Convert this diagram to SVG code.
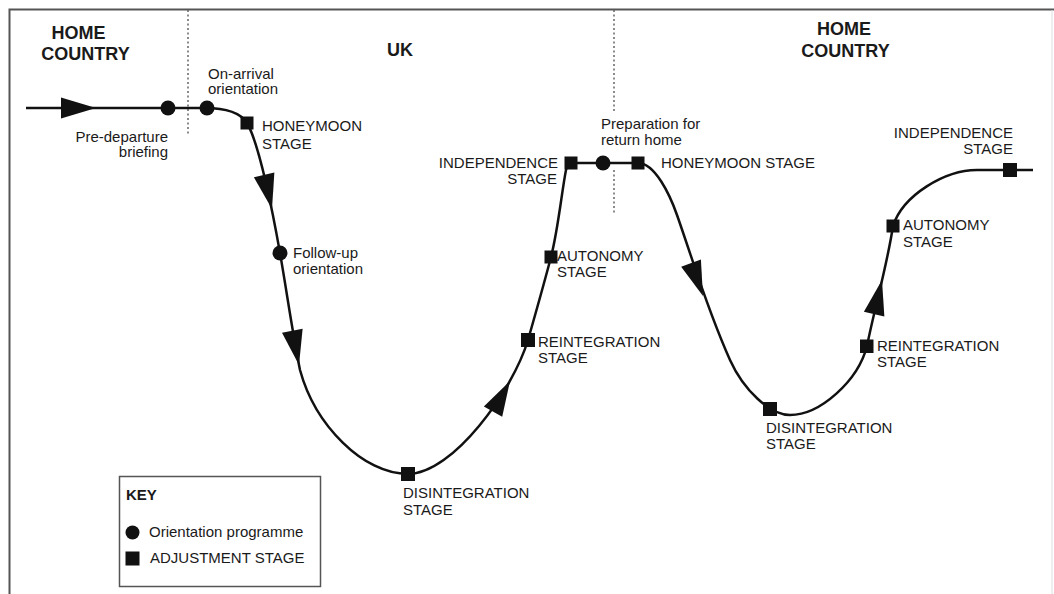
<svg xmlns="http://www.w3.org/2000/svg" width="1054" height="594" viewBox="0 0 1054 594">
<style>
text{font-family:"Liberation Sans",Arial,Helvetica,sans-serif;fill:#1a1a1a}
.h{font-size:18px;font-weight:bold}
.l{font-size:15px}
.r{text-anchor:end}
.c{text-anchor:middle}
.curve{fill:none;stroke:#111;stroke-width:2.5}
.dot{fill:none;stroke:#666;stroke-width:1.5;stroke-dasharray:2 2.5}
.sq{fill:#111}
.ci{fill:#111}
.ah{fill:#111}
</style>
<defs>
<path id="ah" d="M0,0 L-35,-10.5 L-35,10.5 Z"/>
</defs>
<rect x="0" y="0" width="1054" height="594" fill="#fff"/>
<g id="frame">
<path d="M9.5,594 V9.5 H1054" fill="none" stroke="#555" stroke-width="2"/>
<line x1="1052" y1="10" x2="1052" y2="594" stroke="#ddd" stroke-width="1"/>
<line class="dot" x1="188" y1="10" x2="188" y2="136"/>
<line class="dot" x1="614" y1="10" x2="614" y2="113"/>
<line class="dot" x1="614" y1="170" x2="614" y2="215"/>
</g>
<g id="headings">
<text class="h c" x="78.5" y="39">HOME</text>
<text class="h c" x="85.5" y="60">COUNTRY</text>
<text class="h" x="387" y="56">UK</text>
<text class="h c" x="844" y="35">HOME</text>
<text class="h c" x="845.5" y="57">COUNTRY</text>
</g>
<g id="connectors">
<path class="curve" d="M26,108 L205,108 C226,108 240,112 247,123 C259,143 273,213 280,253 C287,293 292,330 300,370 C315,425 363,474 408,474 C453,474 513,390 528,340 C536,312 545,280 551,257 C558,230 562,190 566,170 C567,166 569,163 575,163 L638,163 C655,163 670,195 677,215 C694.5,265 707.5,310 730,360 C743.5,390 770,415 790,415 C820,415 858,381 867,346 C875,306 887,266 893,226 C903,195 945,170 977,170 L1033,170"/>
<use href="#ah" class="ah" transform="translate(96,108)"/>
<use href="#ah" class="ah" transform="translate(272,209) rotate(77)"/>
<use href="#ah" class="ah" transform="translate(299,365) rotate(79)"/>
<use href="#ah" class="ah" transform="translate(510,381) rotate(-61)"/>
<use href="#ah" class="ah" transform="translate(703,296) rotate(70)"/>
<use href="#ah" class="ah" transform="translate(882,280) rotate(-77)"/>
</g>
<g id="pre-departure">
<circle class="ci" cx="168" cy="108" r="7.5"/>
<text class="l r" x="168" y="142">Pre-departure</text>
<text class="l r" x="168" y="157">briefing</text>
</g>
<g id="on-arrival">
<circle class="ci" cx="207" cy="108" r="7.5"/>
<text class="l" x="208" y="79">On-arrival</text>
<text class="l" x="208" y="94">orientation</text>
</g>
<g id="honeymoon-1">
<rect class="sq" x="240.5" y="116.5" width="13" height="13"/>
<text class="l" x="262" y="131">HONEYMOON</text>
<text class="l" x="262" y="149">STAGE</text>
</g>
<g id="follow-up">
<circle class="ci" cx="280" cy="253" r="7.5"/>
<text class="l" x="293" y="258">Follow-up</text>
<text class="l" x="293" y="274">orientation</text>
</g>
<g id="disintegration-1">
<rect class="sq" x="401" y="467" width="14" height="14"/>
<text class="l" x="403" y="498">DISINTEGRATION</text>
<text class="l" x="403" y="515">STAGE</text>
</g>
<g id="reintegration-1">
<rect class="sq" x="521" y="333" width="14" height="14"/>
<text class="l" x="538" y="347">REINTEGRATION</text>
<text class="l" x="538" y="363">STAGE</text>
</g>
<g id="autonomy-1">
<rect class="sq" x="544.5" y="250.5" width="13" height="13"/>
<text class="l" x="557" y="261">AUTONOMY</text>
<text class="l" x="557" y="277">STAGE</text>
</g>
<g id="independence-1">
<rect class="sq" x="564.5" y="156.5" width="13" height="13"/>
<text class="l r" x="558" y="168">INDEPENDENCE</text>
<text class="l r" x="557" y="184">STAGE</text>
</g>
<g id="preparation">
<circle class="ci" cx="603" cy="163" r="7.5"/>
<text class="l" x="601" y="129">Preparation for</text>
<text class="l" x="601" y="145">return home</text>
</g>
<g id="honeymoon-2">
<rect class="sq" x="631.5" y="156.5" width="13" height="13"/>
<text class="l" x="661" y="168">HONEYMOON STAGE</text>
</g>
<g id="disintegration-2">
<rect class="sq" x="763" y="402" width="14" height="14"/>
<text class="l" x="766" y="433">DISINTEGRATION</text>
<text class="l" x="766" y="449">STAGE</text>
</g>
<g id="reintegration-2">
<rect class="sq" x="860" y="339.5" width="13.5" height="13.5"/>
<text class="l" x="877" y="351">REINTEGRATION</text>
<text class="l" x="877" y="367">STAGE</text>
</g>
<g id="autonomy-2">
<rect class="sq" x="886.5" y="219.5" width="13" height="13"/>
<text class="l" x="903" y="230">AUTONOMY</text>
<text class="l" x="903" y="247">STAGE</text>
</g>
<g id="independence-2">
<rect class="sq" x="1003" y="163" width="14" height="14"/>
<text class="l r" x="1013" y="138">INDEPENDENCE</text>
<text class="l r" x="1013" y="154">STAGE</text>
</g>
<g id="key">
<rect x="119.5" y="476.5" width="201" height="110" fill="none" stroke="#555" stroke-width="1.5"/>
<text x="126" y="500" style="font-size:15px;font-weight:bold">KEY</text>
<circle class="ci" cx="132.5" cy="532.5" r="7"/>
<text class="l" x="149" y="537">Orientation programme</text>
<rect class="sq" x="125.5" y="551.5" width="14" height="14"/>
<text class="l" x="150" y="563">ADJUSTMENT STAGE</text>
</g>
</svg>
